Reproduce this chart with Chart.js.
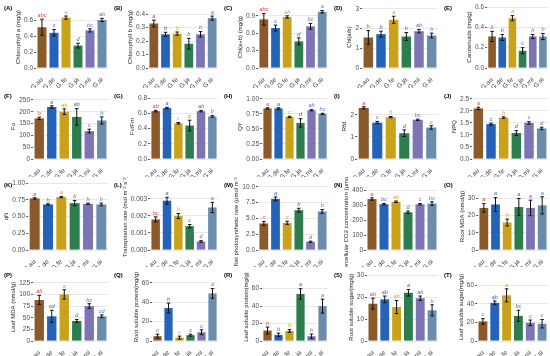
<!DOCTYPE html>
<html>
<head>
<meta charset="utf-8">
<script src="https://cdn.jsdelivr.net/npm/chart.js@4"></script>
<style>
  body { margin: 0; background: #fff; width: 550px; height: 356px; position: relative; overflow: hidden; }
  canvas { position: absolute; }
</style>
</head>
<body>
<script>
// groups on the x axis of every panel
const groups = ["G.au", "G.de", "G.fe", "G.ja", "G.mi", "G.si"];

// (A) chlorophyll a
const chlA = [0.51, 0.44, 0.63, 0.28, 0.47, 0.60];
const chlA_sd = [0.10, 0.04, 0.02, 0.03, 0.02, 0.02];
const chlA_sig = ["abc", "c", "a", "d", "bc", "ab"];
// (B) chlorophyll b
const chlB = [0.33, 0.25, 0.255, 0.18, 0.25, 0.37];
const chlB_sd = [0.025, 0.015, 0.012, 0.04, 0.02, 0.015];
const chlB_sig = ["a", "b", "b", "b", "b", "a"];
// (C) chl a+b
const chlAB = [0.84, 0.69, 0.88, 0.46, 0.72, 0.97];
const chlAB_sd = [0.10, 0.05, 0.02, 0.06, 0.05, 0.02];
const chlAB_sig = ["abc", "c", "ab", "d", "bc", "a"];
// (D) chl a/b
const chlRatio = [1.55, 1.72, 2.45, 1.60, 1.87, 1.65];
const chlRatio_sd = [0.35, 0.15, 0.18, 0.20, 0.08, 0.12];
const chlRatio_sig = ["b", "b", "a", "b", "ab", "b"];
// (E) carotenoids
const carot = [0.31, 0.30, 0.49, 0.17, 0.31, 0.31];
const carot_sd = [0.05, 0.03, 0.025, 0.03, 0.02, 0.03];
const carot_sig = ["b", "b", "a", "c", "b", "b"];
// (F) Fo
const fo = [172, 220, 200, 178, 118, 163];
const fo_sd = [5, 5, 12, 35, 8, 15];
const fo_sig = ["b", "a", "ab", "ab", "c", "b"];
// (G) Fv/Fm
const fvfm = [0.63, 0.67, 0.47, 0.44, 0.63, 0.56];
const fvfm_sd = [0.01, 0.01, 0.01, 0.07, 0.01, 0.01];
const fvfm_sig = ["ab", "a", "c", "c", "ab", "b"];
// (H) QY
const qy = [0.84, 0.84, 0.70, 0.60, 0.81, 0.75];
const qy_sd = [0.01, 0.01, 0.01, 0.07, 0.01, 0.01];
const qy_sig = ["a", "a", "c", "d", "ab", "bc"];
// (I) Rfd
const rfd = [2.32, 1.65, 1.90, 1.17, 1.78, 1.43];
const rfd_sd = [0.05, 0.05, 0.03, 0.15, 0.03, 0.08];
const rfd_sig = ["a", "c", "b", "d", "bc", "c"];
// (J) NPQ
const npq = [2.10, 1.45, 1.72, 1.08, 1.50, 1.27];
const npq_sd = [0.05, 0.04, 0.03, 0.10, 0.05, 0.05];
const npq_sig = ["a", "c", "b", "d", "c", "d"];
// (K) qN
const qn = [0.77, 0.68, 0.79, 0.70, 0.69, 0.68];
const qn_sd = [0.01, 0.01, 0.01, 0.04, 0.01, 0.02];
const qn_sig = ["a", "b", "a", "b", "b", "b"];
// (L) transpiration rate
const trans = [0.0018, 0.0029, 0.0020, 0.0014, 0.0005, 0.0025];
const trans_sd = [0.00015, 0.0002, 0.00015, 0.0001, 0.00005, 0.0003];
const trans_sig = ["bc", "a", "b", "c", "d", "a"];
// (M) net photosynthetic rate
const pn = [4.2, 8.1, 4.3, 6.3, 1.3, 6.1];
const pn_sd = [0.3, 0.3, 0.25, 0.3, 0.1, 0.3];
const pn_sig = ["c", "a", "c", "b", "d", "b"];
// (N) intercellular CO2
const ci = [340, 305, 322, 252, 305, 310];
const ci_sd = [8, 5, 5, 8, 5, 12];
const ci_sig = ["a", "bc", "ab", "d", "c", "bc"];
// (O) root MDA
const rootMda = [24.5, 26.5, 16, 25, 24.5, 26];
const rootMda_sd = [2.5, 4, 2, 5, 4.5, 5];
const rootMda_sig = ["a", "a", "b", "a", "a", "a"];
// (P) leaf MDA
const leafMda = [88, 53, 100, 43, 75, 53];
const leafMda_sd = [10, 13, 10, 3, 5, 3];
const leafMda_sig = ["ab", "cd", "a", "d", "bc", "cd"];
// (Q) root soluble protein
const rootProt = [5, 34, 3.5, 6, 9, 49];
const rootProt_sd = [2, 5, 1.5, 1, 2.5, 5];
const rootProt_sig = ["c", "b", "c", "c", "c", "a"];
// (R) leaf soluble protein
const leafProt = [12, 7, 11.5, 54, 5.5, 40];
const leafProt_sd = [4, 2, 1.5, 6, 2.5, 8];
const leafProt_sig = ["b", "b", "b", "a", "b", "a"];
// (S) root soluble sugar
const rootSug = [17, 19, 15.5, 22, 19.5, 14];
const rootSug_sd = [2.5, 1.5, 3, 1.5, 1, 2.5];
const rootSug_sig = ["ab", "ab", "ab", "a", "ab", "b"];
// (T) leaf soluble sugar
const leafSug = [21, 41, 49, 27, 19.5, 18.5];
const leafSug_sd = [3, 2, 7, 6, 3, 4.5];
const leafSug_sig = ["c", "ab", "a", "bc", "c", "c"];

const barColors = ["#8b5a2b", "#2563b8", "#c9a21a", "#2e7d4e", "#7c74b4", "#6a8dae"];
const sigColors = ["#d9443a", "#3466c8", "#e39b1b", "#2e7d4e", "#6a5fb0", "#4c7fb3"];

const panels = [
  { tag: "(A)", title: "Chlorophyll a (mg/g)", mean: chlA, sd: chlA_sd, sig: chlA_sig, max: 0.775, step: 0.2, dec: 1 },
  { tag: "(B)", title: "Chlorophyll b (mg/g)", mean: chlB, sd: chlB_sd, sig: chlB_sig, max: 0.46, step: 0.1, dec: 1 },
  { tag: "(C)", title: "Chl(a+b) (mg/g)", mean: chlAB, sd: chlAB_sd, sig: chlAB_sig, max: 1.07, step: 0.3, dec: 1 },
  { tag: "(D)", title: "Chl(a/b)", mean: chlRatio, sd: chlRatio_sd, sig: chlRatio_sig, max: 3.15, step: 1, dec: 0 },
  { tag: "(E)", title: "Carotenoids (mg/g)", mean: carot, sd: carot_sd, sig: carot_sig, max: 0.61, step: 0.2, dec: 1 },
  { tag: "(F)", title: "Fo", mean: fo, sd: fo_sd, sig: fo_sig, max: 275, step: 50, dec: 0 },
  { tag: "(G)", title: "Fv/Fm", mean: fvfm, sd: fvfm_sd, sig: fvfm_sig, max: 0.855, step: 0.2, dec: 1 },
  { tag: "(H)", title: "QY", mean: qy, sd: qy_sd, sig: qy_sig, max: 1.08, step: 0.25, dec: 2 },
  { tag: "(I)", title: "Rfd", mean: rfd, sd: rfd_sd, sig: rfd_sig, max: 2.95, step: 1, dec: 0 },
  { tag: "(J)", title: "NPQ", mean: npq, sd: npq_sd, sig: npq_sig, max: 2.7, step: 0.5, dec: 1 },
  { tag: "(K)", title: "qN", mean: qn, sd: qn_sd, sig: qn_sig, max: 1.0, step: 0.25, dec: 2 },
  { tag: "(L)", title: "Transpiration rate (mol m\u207B\u00B2 s\u207B\u00B9)", mean: trans, sd: trans_sd, sig: trans_sig, max: 0.00394, step: 0.001, dec: 3 },
  { tag: "(M)", title: "Net photosynthetic rate (\u03BCmol m\u207B\u00B2 s\u207B\u00B9)", mean: pn, sd: pn_sd, sig: pn_sig, max: 10.6, step: 2.5, dec: 1 },
  { tag: "(N)", title: "Intercellular CO2 concentration (\u03BCmol mol\u207B\u00B9)", mean: ci, sd: ci_sd, sig: ci_sig, max: 447, step: 100, dec: 0 },
  { tag: "(O)", title: "Root MDA (nmol/g)", mean: rootMda, sd: rootMda_sd, sig: rootMda_sig, max: 39, step: 10, dec: 0 },
  { tag: "(P)", title: "Leaf MDA (nmol/g)", mean: leafMda, sd: leafMda_sd, sig: leafMda_sig, max: 146, step: 25, dec: 0 },
  { tag: "(Q)", title: "Root soluble protein(mg/g)", mean: rootProt, sd: rootProt_sd, sig: rootProt_sig, max: 70, step: 20, dec: 0 },
  { tag: "(R)", title: "Leaf soluble protein(mg/g)", mean: leafProt, sd: leafProt_sd, sig: leafProt_sig, max: 78, step: 20, dec: 0 },
  { tag: "(S)", title: "Root soluble sugar(mg/g)", mean: rootSug, sd: rootSug_sd, sig: rootSug_sig, max: 31, step: 10, dec: 0 },
  { tag: "(T)", title: "Leaf soluble sugar(mg/g)", mean: leafSug, sd: leafSug_sd, sig: leafSug_sig, max: 73, step: 20, dec: 0 },
];

// grid of panels: column lefts, row tops/heights, zero line inside each row,
// and where each plot area starts (relative to its column)
const colLeft = [0, 110, 220, 330, 440];
const rowTop = [0, 88, 177, 267];
const rowH = [88, 89, 90, 89];
const rowZero = [68, 71, 73, 74];
const plotLeft = [[36, 38, 38, 32, 47], [33, 40, 42, 27, 32], [28, 40, 38, 36, 38], [33, 42, 42, 37, 37]];

Chart.defaults.font.family = "'Liberation Sans', Arial, sans-serif";
Chart.defaults.animation = false;

// error bars + significance letters + panel tag
function extras(p) {
  return {
    id: "extras",
    afterDatasetsDraw(chart) {
      const ctx = chart.ctx;
      const y = chart.scales.y;
      const meta = chart.getDatasetMeta(0);
      ctx.save();
      meta.data.forEach((bar, i) => {
        const cx = bar.x;
        const top = y.getPixelForValue(p.mean[i] + p.sd[i]);
        const bot = y.getPixelForValue(p.mean[i] - p.sd[i]);
        ctx.strokeStyle = "#111";
        ctx.lineWidth = 1;
        ctx.beginPath();
        ctx.moveTo(cx, top); ctx.lineTo(cx, bot);
        ctx.moveTo(cx - 1.8, top); ctx.lineTo(cx + 1.8, top);
        ctx.moveTo(cx - 1.8, bot); ctx.lineTo(cx + 1.8, bot);
        ctx.stroke();
        ctx.fillStyle = sigColors[i];
        ctx.font = "italic 5.5px 'Liberation Sans', Arial";
        ctx.textAlign = "center";
        ctx.textBaseline = "bottom";
        ctx.fillText(p.sig[i], cx, top - 1);
      });
      ctx.fillStyle = "#000";
      ctx.font = "bold 6px 'Liberation Sans', Arial";
      ctx.textAlign = "left";
      ctx.textBaseline = "top";
      ctx.fillText(p.tag, 4, 5);
      ctx.restore();
    }
  };
}

panels.forEach((p, k) => {
  const r = Math.floor(k / 5), c = k % 5;
  const cv = document.createElement("canvas");
  cv.width = 110;
  cv.height = rowH[r];
  cv.style.left = colLeft[c] + "px";
  cv.style.top = rowTop[r] + "px";
  document.body.appendChild(cv);

  const xHeight = rowH[r] - rowZero[r];
  const chart = new Chart(cv, {
    type: "bar",
    data: {
      labels: groups,
      datasets: [{
        data: p.mean,
        backgroundColor: barColors,
        barPercentage: 0.75,
        categoryPercentage: 1,
      }]
    },
    options: {
      responsive: false,
      layout: { padding: { top: 6, right: 2, bottom: 0, left: 0 } },
      plugins: { legend: { display: false }, tooltip: { enabled: false } },
      scales: {
        x: {
          grid: { display: false },
          border: { display: false },
          ticks: { color: "#3a3a3a", font: { size: 6.5 }, maxRotation: 45, minRotation: 45, autoSkip: false, padding: 0 },
          afterFit: (s) => { s.height = xHeight; }
        },
        y: {
          min: 0,
          max: p.max,
          border: { display: false },
          grid: { color: "#e2e2e2", lineWidth: 0.8, tickColor: "#333", tickLength: 2 },
          ticks: {
            stepSize: p.step, includeBounds: false, color: "#4d4d4d", font: { size: 6.5 }, padding: 1,
            callback: (v) => Number(v).toFixed(p.dec)
          },
          title: { display: true, text: p.title, color: "#222", font: { size: 6 }, padding: { top: 0, bottom: 1 } }
        }
      }
    },
    plugins: [extras(p)]
  });
  // shift so the plot area starts where the reference has it
  const w = chart.scales.y.width;
  chart.options.layout.padding.left = Math.max(0, plotLeft[r][c] - w);
  chart.update("none");
});
</script>
</body>
</html>
